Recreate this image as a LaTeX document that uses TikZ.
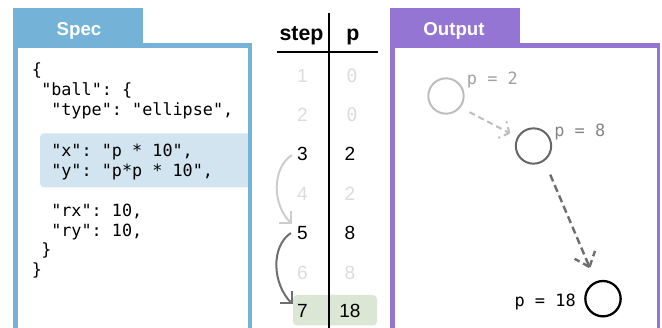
\documentclass[tikz,border=0pt]{standalone}
\usepackage{fontspec}
\setmainfont{Liberation Sans}
\setmonofont{DejaVu Sans Mono}
\usetikzlibrary{arrows.meta}
\definecolor{specblue}{HTML}{74B3D7}
\definecolor{hlblue}{HTML}{D1E4EF}
\definecolor{outpurple}{HTML}{9575D3}
\definecolor{hlgreen}{HTML}{DCE6D5}
\definecolor{fadegray}{HTML}{DCDCDC}
\definecolor{lightarrow}{HTML}{CDCDCD}
\definecolor{darkarrow}{HTML}{6E6E6E}
\definecolor{ballone}{HTML}{BDBDBD}
\definecolor{balltwo}{HTML}{666666}
\begin{document}
\begin{tikzpicture}[x=0.75pt,y=-0.75pt,
  codeline/.style={font=\ttfamily\fontsize{12.6}{15}\selectfont, inner sep=0, anchor=base west, text=black},
  numtxt/.style={font=\fontsize{14.3}{17}\selectfont, inner sep=0, text=black},
  fadenum/.style={numtxt, text=fadegray},
  fadezero/.style={font=\ttfamily\fontsize{14}{17}\selectfont, inner sep=0, text=fadegray},
  hdr/.style={font=\bfseries\fontsize{16}{19}\selectfont, inner sep=0, anchor=base},
  tabtitle/.style={font=\bfseries\fontsize{14}{17}\selectfont, text=white, inner sep=0, anchor=base},
  lbl/.style={font=\ttfamily\fontsize{12.7}{15}\selectfont, inner sep=0},
  ballnode/.style={circle, draw, minimum size=26.5pt, inner sep=0, line width=1.5pt},
  barb/.style={-{Straight Barb[length=6.5pt,width=13pt]}},
  dashone/.style={ballone, line width=1.5pt, dash pattern=on 4.5pt off 3pt},
  dashtwo/.style={darkarrow, line width=1.8pt, dash pattern=on 5.5pt off 3pt},
]
\useasboundingbox (0,0) rectangle (662,328);

% ---------- Spec panel ----------
\fill[hlblue, rounded corners=3pt] (40,133.3) rectangle (252,187.3);
\fill[specblue] (13,8) rectangle (143.3,44);
\fill[specblue] (13,43.3) rectangle (18.3,332);
\fill[specblue] (13,43.3) rectangle (251.7,48.3);
\fill[specblue] (248.3,43.3) rectangle (251.7,332);
\node[tabtitle] (spectitle) at (79,35.7) {Spec};

\node[codeline] (j1) at (31.7,75.5) {\{};
\node[codeline] (j2) at (41,95.5) {"ball": \{};
\node[codeline] (j3) at (51,115.5) {"type": "ellipse",};
\node[codeline] (j4) at (51,156.5) {"x": "p * 10",};
\node[codeline] (j5) at (51,176.5) {"y": "p*p * 10",};
\node[codeline] (j6) at (51,217) {"rx": 10,};
\node[codeline] (j7) at (51,237) {"ry": 10,};
\node[codeline] (j8) at (41,256) {\}};
\node[codeline] (j9) at (31.7,276) {\}};

% ---------- Table ----------
\fill[hlgreen, rounded corners=3pt] (293,295) rectangle (377,325.5);
\node[hdr] (hstep) at (301.5,41) {step};
\node[hdr] (hp) at (353,41) {p};
\draw[line width=1.5pt] (276.7,51.7) -- (378,51.7);
\draw[line width=1.5pt] (329,13) -- (329,332);

\node[fadenum] (s1) at (302.5,76) {1};
\node[fadezero] (p1) at (352,76) {0};
\node[fadenum] (s2) at (302.5,115) {2};
\node[fadezero] (p2) at (352,115) {0};
\node[numtxt] (s3) at (302.5,154) {3};
\node[numtxt] (p3) at (350,154) {2};
\node[fadenum] (s4) at (302.5,193.5) {4};
\node[fadenum] (p4) at (350,193.5) {2};
\node[numtxt] (s5) at (302.5,233) {5};
\node[numtxt] (p5) at (350,233) {8};
\node[fadenum] (s6) at (302.5,272.5) {6};
\node[fadenum] (p6) at (350,272.5) {8};
\node[numtxt] (s7) at (302.5,310.5) {7};
\node[numtxt] (p7) at (350,310.5) {18};

\draw[barb, lightarrow, line width=1.5pt]
  ([shift={(-5,1)}]s3.west) .. controls +(-20,13) and +(-20,-20) .. ([shift={(-5,-9)}]s5.west);
\draw[barb, darkarrow, line width=1.5pt]
  ([shift={(-6,0)}]s5.west) .. controls +(-20,13) and +(-21,-21) .. ([shift={(-4,-6)}]s7.west);

% ---------- Output panel ----------
\fill[outpurple] (390,8) rectangle (520,44);
\fill[outpurple] (390,43.3) rectangle (395,332);
\fill[outpurple] (390,43.3) rectangle (660,48.3);
\fill[outpurple] (656.7,43.3) rectangle (660,332);
\node[tabtitle] (outtitle) at (454,35.7) {Output};

\node[ballnode, draw=ballone] (c1) at (446,96) {};
\node[ballnode, draw=balltwo] (c2) at (533.5,146) {};
\node[ballnode, draw=black, line width=1.7pt] (c3) at (603,298.7) {};

\node[lbl, text=ballone!85!black, anchor=base west] (l1) at (466.7,85) {p = 2};
\node[lbl, text=balltwo!80!white, anchor=base west] (l2) at (554,137) {p = 8};
\node[lbl, text=black, anchor=base east] (l3) at (576,306) {p = 18};

% dashed arrow 1 (tip and dashed barbs)
\coordinate (t1) at (509.3,133);
\draw[dashone, shorten <=7.5pt] (c1.-38) -- (t1);
\draw[dashone] (t1) -- ++(-10.9,4.9);
\draw[dashone] (t1) -- ++(-2.9,-11.6);
% dashed arrow 2
\coordinate (t2) at (589.5,267);
\draw[dashtwo, shorten <=11pt] (c2.-54) -- (t2);
\draw[dashtwo] (t2) -- ++(-14.9,-8.2);
\draw[dashtwo] (t2) -- ++(5.5,-16.1);
\end{tikzpicture}
\end{document}
